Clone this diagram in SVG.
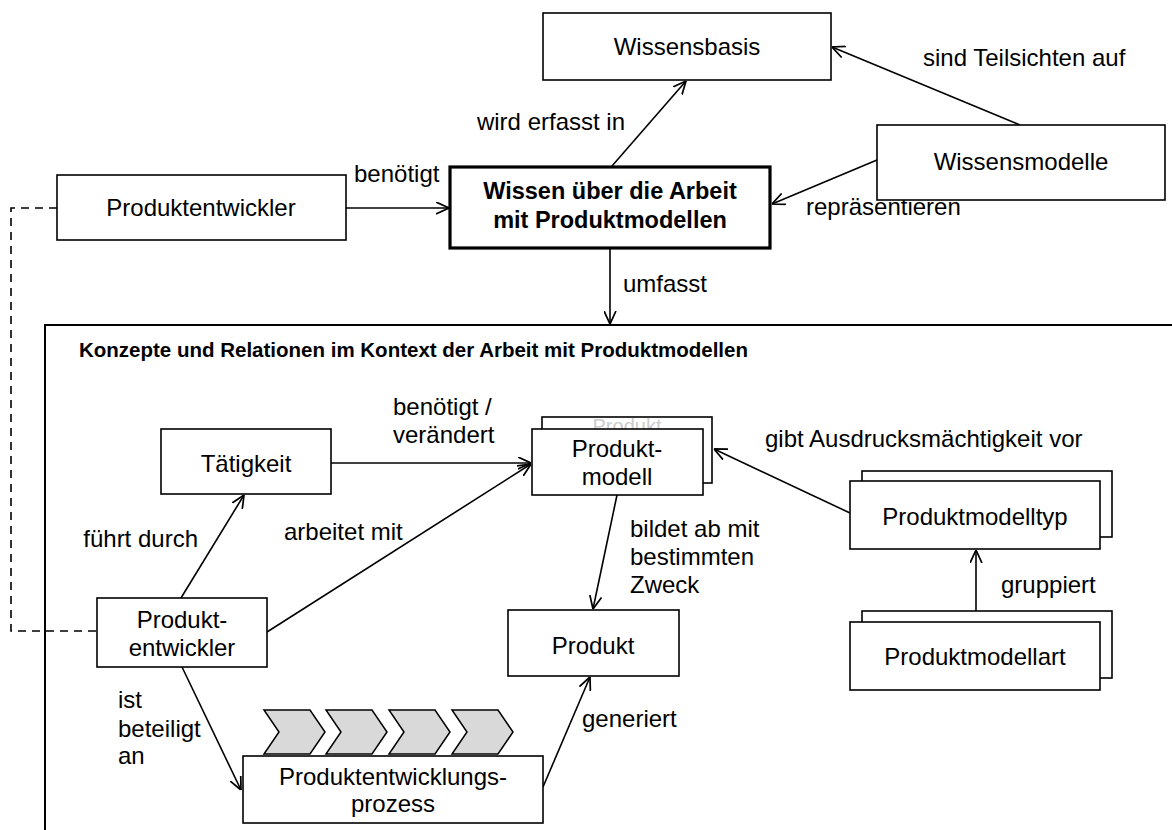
<svg xmlns="http://www.w3.org/2000/svg" width="1172" height="830" viewBox="0 0 1172 830">
<style>
text{font-family:"Liberation Sans",Arial,sans-serif;fill:#000}
.t{font-size:24px}
.l{font-size:24px}
.c{text-anchor:middle}
.e{text-anchor:end}
.b{font-weight:bold}
.box{fill:#fff;stroke:#000;stroke-width:1.6}
.edge{fill:none;stroke:#000;stroke-width:1.6}
.chev{fill:#d9d9d9;stroke:#000;stroke-width:1.5}
.faint{fill:#cccccc}
</style>
<defs>
<marker id="arr" viewBox="0 0 12 12" refX="12" refY="6" markerWidth="13" markerHeight="13" markerUnits="userSpaceOnUse" orient="auto">
<path d="M0,0.5 L12,6 L0,11.5" fill="none" stroke="#000" stroke-width="1.6"/>
</marker>
<clipPath id="backclip"><rect x="543" y="418" width="168" height="11"/></clipPath>
</defs>
<rect width="1172" height="830" fill="#fff"/>

<g id="kontext-frame">
<path d="M1172,325 H45 V830" fill="none" stroke="#000" stroke-width="2"/>
<text class="b" font-size="20.5" x="79" y="357">Konzepte und  Relationen im  Kontext der Arbeit mit Produktmodellen</text>
</g>

<g id="connectors">
<path class="edge" d="M57,208 H11 V631 H97" stroke-dasharray="8,6"/>
<line class="edge" x1="612" y1="166" x2="686" y2="81" marker-end="url(#arr)"/>
<line class="edge" x1="1020" y1="125" x2="832" y2="47" marker-end="url(#arr)"/>
<line class="edge" x1="877" y1="160" x2="772" y2="204" marker-end="url(#arr)"/>
<line class="edge" x1="346" y1="208" x2="449" y2="208" marker-end="url(#arr)"/>
<line class="edge" x1="610" y1="249" x2="610" y2="324" marker-end="url(#arr)"/>
<line class="edge" x1="331" y1="463" x2="531" y2="463" marker-end="url(#arr)"/>
<line class="edge" x1="267" y1="632" x2="531" y2="464" marker-end="url(#arr)"/>
<line class="edge" x1="181" y1="598" x2="244" y2="495" marker-end="url(#arr)"/>
<line class="edge" x1="617" y1="495" x2="593" y2="609" marker-end="url(#arr)"/>
<line class="edge" x1="850" y1="513" x2="714" y2="449" marker-end="url(#arr)"/>
<line class="edge" x1="976" y1="622" x2="976" y2="550" marker-end="url(#arr)"/>
<line class="edge" x1="182" y1="667" x2="241" y2="790" marker-end="url(#arr)"/>
<line class="edge" x1="543" y1="787" x2="590" y2="677" marker-end="url(#arr)"/>
</g>

<g id="labels">
<text class="t e" x="625" y="130">wird erfasst in</text>
<text class="t" x="923" y="66">sind Teilsichten auf</text>
<text class="t" x="354" y="182">benötigt</text>
<text class="t" x="806" y="215">repräsentieren</text>
<text class="t" x="623" y="292">umfasst</text>
<text class="l" x="393" y="415">benötigt /</text>
<text class="l" x="393" y="443">verändert</text>
<text class="l" x="765" y="447">gibt Ausdrucksmächtigkeit vor</text>
<text class="l e" x="198" y="547">führt durch</text>
<text class="l" x="284" y="540">arbeitet mit</text>
<text class="l" x="630" y="537">bildet ab mit</text>
<text class="l" x="630" y="565">bestimmten</text>
<text class="l" x="630" y="593">Zweck</text>
<text class="l" x="1001" y="593">gruppiert</text>
<text class="l" x="118" y="708">ist</text>
<text class="l" x="118" y="737">beteiligt</text>
<text class="l" x="118" y="764">an</text>
<text class="l" x="582" y="727">generiert</text>
</g>

<g id="wissensbasis">
<rect class="box" x="543" y="13" width="288" height="67"/>
<text class="t c" x="687" y="55">Wissensbasis</text>
</g>
<g id="wissensmodelle">
<rect class="box" x="877" y="125" width="288" height="75"/>
<text class="t c" x="1021" y="170">Wissensmodelle</text>
</g>
<g id="produktentwickler-top">
<rect class="box" x="57" y="175" width="289" height="65"/>
<text class="t c" x="201" y="216">Produktentwickler</text>
</g>
<g id="wissen">
<rect x="450" y="167" width="320" height="81" fill="#fff" stroke="#000" stroke-width="3.2"/>
<text class="c b" font-size="23.5" x="610" y="199">Wissen über  die Arbeit</text>
<text class="c b" font-size="23.5" x="610" y="228">mit Produktmodellen</text>
</g>

<g id="taetigkeit">
<rect class="box" x="161" y="429" width="170" height="65"/>
<text class="l c" x="246" y="472">Tätigkeit</text>
</g>
<g id="produktmodell">
<rect class="box" x="542" y="417" width="170" height="66"/>
<text class="c faint" font-size="20" x="627" y="433" clip-path="url(#backclip)">Produkt</text>
<rect class="box" x="532" y="429" width="171" height="66"/>
<text class="l c" x="617" y="457">Produkt-</text>
<text class="l c" x="617" y="485">modell</text>
</g>
<g id="produktmodelltyp">
<rect class="box" x="862" y="471" width="250" height="66"/>
<rect class="box" x="850" y="481" width="250" height="68"/>
<text class="l c" x="975" y="525">Produktmodelltyp</text>
</g>
<g id="produktmodellart">
<rect class="box" x="862" y="611" width="250" height="67"/>
<rect class="box" x="850" y="622" width="250" height="68"/>
<text class="l c" x="975" y="665">Produktmodellart</text>
</g>
<g id="produktentwickler">
<rect class="box" x="97" y="598" width="170" height="69"/>
<text class="l c" x="182" y="628">Produkt-</text>
<text class="l c" x="182" y="656">entwickler</text>
</g>
<g id="produkt">
<rect class="box" x="508" y="610" width="171" height="66"/>
<text class="l c" x="593" y="654">Produkt</text>
</g>
<g id="pep">
<polygon class="chev" points="264,710 310,710 325,732 310,754 264,754 279,732"/>
<polygon class="chev" points="326,710 372,710 387,732 372,754 326,754 341,732"/>
<polygon class="chev" points="389,710 435,710 450,732 435,754 389,754 404,732"/>
<polygon class="chev" points="452,710 498,710 513,732 498,754 452,754 467,732"/>
<rect class="box" x="243" y="756" width="300" height="67"/>
<text class="l c" x="393" y="785">Produktentwicklungs-</text>
<text class="l c" x="393" y="812">prozess</text>
</g>
</svg>
